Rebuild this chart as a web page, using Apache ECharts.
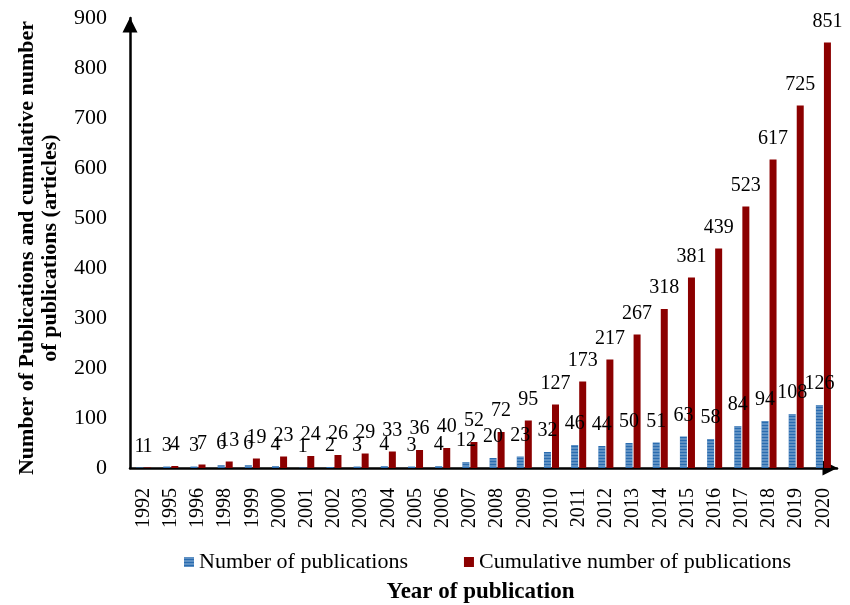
<!DOCTYPE html>
<html>
<head>
<meta charset="utf-8">
<script src="https://cdn.jsdelivr.net/npm/echarts@6/dist/echarts.min.js"></script>
<style>html,body{margin:0;padding:0;background:#fff;}#c{width:850px;height:605px;}</style>
</head>
<body>
<div id="c"></div>
<script>
const years = ['1992','1995','1996','1998','1999','2000','2001','2002','2003','2004','2005','2006','2007','2008','2009','2010','2011','2012','2013','2014','2015','2016','2017','2018','2019','2020'];
const publications = [1,3,3,6,6,4,1,2,3,4,3,4,12,20,23,32,46,44,50,51,63,58,84,94,108,126];
const cumulative = [1,4,7,13,19,23,24,26,29,33,36,40,52,72,95,127,173,217,267,318,381,439,523,617,725,851];
const yTicks = [0,100,200,300,400,500,600,700,800,900];

const FONT = '"Liberation Serif","Times New Roman",serif';
const chart = echarts.init(document.getElementById('c'), null, {renderer:'canvas'});
chart.setOption({
  animation:false,
  backgroundColor:'#fff',
  textStyle:{fontFamily:FONT,color:'#000'},
  grid:{left:130,right:13,top:18,bottom:137,containLabel:false,outerBoundsMode:'none'},
  legend:{
    left:179, top:546, itemWidth:10, itemHeight:10, itemGap:56,
    icon:'rect',
    textStyle:{fontFamily:FONT,fontSize:22,color:'#000'},
    data:['Number of publications','Cumulative number of publications']
  },
  xAxis:{
    type:'category', data:years,
    axisLine:{show:true,lineStyle:{color:'#000',width:2.5},symbol:['none','triangle'],symbolSize:[15,15],symbolOffset:[0,-7]},
    axisTick:{show:false},
    axisLabel:{rotate:90,fontSize:20,margin:20,color:'#000',fontFamily:FONT},
    name:'Year of publication', nameLocation:'middle', nameGap:113,
    nameTextStyle:{fontFamily:FONT,fontSize:23,fontWeight:'bold',color:'#000',padding:[0,6,0,0]}
  },
  yAxis:{
    type:'value', min:yTicks[0], max:yTicks[yTicks.length-1], interval:100,
    splitLine:{show:false},
    axisLine:{show:true,lineStyle:{color:'#000',width:2.5},symbol:['none','triangle'],symbolSize:[15,15],symbolOffset:[0,-7]},
    axisTick:{show:false},
    axisLabel:{fontSize:22,margin:23,color:'#000',fontFamily:FONT},
    name:'Number of Publications and cumulative number\nof publications (articles)',
    nameLocation:'middle', nameGap:68, nameRotate:90,
    nameTextStyle:{fontFamily:FONT,fontSize:22,fontWeight:'bold',color:'#000',lineHeight:23,align:'center',padding:[0,10,0,0]}
  },
  series:[
    {
      name:'Number of publications', type:'bar', data:publications,
      barWidth:7, barGap:'15%',
      itemStyle:{color:'#2a6cb0',decal:{symbol:'rect',dashArrayX:[1,0],dashArrayY:[2,1],color:'rgba(255,255,255,0.25)',rotation:0}},
      label:{show:true,position:'top',distance:11,fontSize:20,color:'#000',fontFamily:FONT}
    },
    {
      name:'Cumulative number of publications', type:'bar', data:cumulative,
      barWidth:7,
      itemStyle:{color:'#8b0000'},
      label:{show:true,position:'top',distance:11,fontSize:20,color:'#000',fontFamily:FONT}
    }
  ]
});
</script>
</body>
</html>
